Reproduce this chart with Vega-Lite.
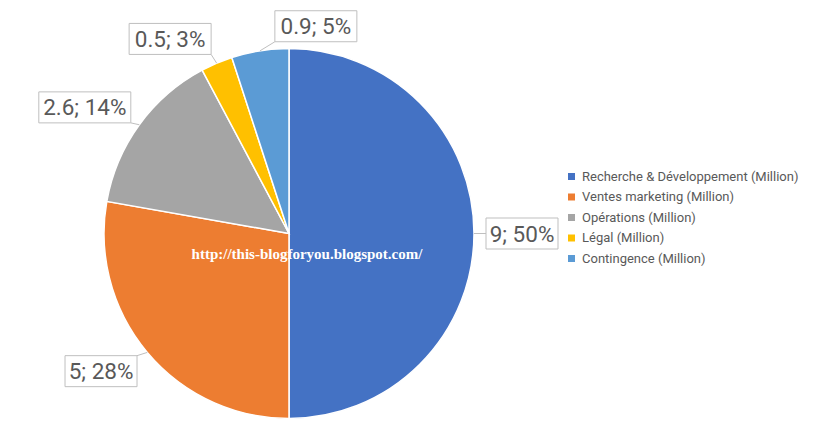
{
  "$schema": "https://vega.github.io/schema/vega-lite/v6.json",
  "autosize": {"type": "none"},
  "width": 578,
  "height": 387,
  "padding": {"left": 0, "top": 40, "right": 236, "bottom": 0},
  "background": "white",
  "config": {"view": {"stroke": null}},
  "layer": [
    {
      "data": {"name": "budget", "values": [
        {"category": "Recherche & Développement (Million)", "value": 9, "ord": 1},
        {"category": "Ventes marketing (Million)", "value": 5, "ord": 2},
        {"category": "Opérations (Million)", "value": 2.6, "ord": 3},
        {"category": "Légal (Million)", "value": 0.5, "ord": 4},
        {"category": "Contingence (Million)", "value": 0.9, "ord": 5}
      ]},
      "mark": {"type": "arc", "outerRadius": 185, "stroke": "white", "strokeWidth": 1.5},
      "encoding": {
        "theta": {"field": "value", "type": "quantitative", "stack": true},
        "order": {"field": "ord", "type": "quantitative"},
        "color": {
          "field": "category",
          "type": "nominal",
          "scale": {
            "domain": ["Recherche & Développement (Million)", "Ventes marketing (Million)", "Opérations (Million)", "Légal (Million)", "Contingence (Million)"],
            "range": ["#4472C4", "#ED7D31", "#A5A5A5", "#FFC000", "#5B9BD5"]
          },
          "legend": {
            "title": null,
            "orient": "none",
            "legendX": 565,
            "legendY": 130,
            "symbolType": "square",
            "symbolSize": 49,
            "symbolStrokeWidth": 0,
            "labelFont": "Roboto",
            "labelFontSize": 13,
            "labelColor": "#595959",
            "labelLimit": 400,
            "rowPadding": 6.5,
            "padding": 0,
            "labelOffset": 4
          }
        }
      }
    },
    {
      "data": {"values": [
        {"category": "Recherche & Développement (Million)", "value": 9, "ord": 1},
        {"category": "Ventes marketing (Million)", "value": 5, "ord": 2},
        {"category": "Opérations (Million)", "value": 2.6, "ord": 3},
        {"category": "Légal (Million)", "value": 0.5, "ord": 4},
        {"category": "Contingence (Million)", "value": 0.9, "ord": 5}
      ]},
      "transform": [
        {"joinaggregate": [{"op": "sum", "field": "value", "as": "total"}]},
        {"window": [{"op": "sum", "field": "value", "as": "cum"}], "sort": [{"field": "ord"}], "frame": [null, 0]},
        {"calculate": "datum.value / datum.total", "as": "pct"},
        {"calculate": "2 * PI * (datum.cum - datum.value / 2) / datum.total", "as": "mid"},
        {"calculate": "datum.mid + (datum.pct < 0.04 ? -0.147 : datum.pct < 0.06 ? 0.286 : datum.pct < 0.2 ? -0.075 : datum.pct < 0.3 ? 0.066 : 0)", "as": "la"},
        {"calculate": "datum.pct < 0.04 ? 228 : datum.pct < 0.06 ? 209 : datum.pct < 0.2 ? 240 : 233", "as": "lr"},
        {"calculate": "datum.lr * sin(datum.la)", "as": "lx"},
        {"calculate": "datum.lr * cos(datum.la)", "as": "ly"},
        {"calculate": "datum.value + '; ' + round(datum.pct * 100) + '%'", "as": "label"},
        {"calculate": "5 * length(datum.label) + 6", "as": "hw"},
        {"calculate": "datum.lx - datum.hw", "as": "bx1"},
        {"calculate": "datum.lx + datum.hw", "as": "bx2"},
        {"calculate": "datum.ly - 15.5", "as": "by1"},
        {"calculate": "datum.ly + 15.5", "as": "by2"},
        {"calculate": "185 * sin(datum.mid)", "as": "ex"},
        {"calculate": "185 * cos(datum.mid)", "as": "ey"},
        {"calculate": "clamp(datum.ex, datum.bx1, datum.bx2)", "as": "px"},
        {"calculate": "clamp(datum.ey, datum.by1, datum.by2)", "as": "py"}
      ],
      "layer": [
        {
          "mark": {"type": "rule", "color": "#BFBFBF", "strokeWidth": 1},
          "encoding": {
            "x": {"field": "ex", "type": "quantitative", "scale": {"domain": [-289, 289], "nice": false, "zero": false}, "axis": null},
            "y": {"field": "ey", "type": "quantitative", "scale": {"domain": [-193.5, 193.5], "nice": false, "zero": false}, "axis": null},
            "x2": {"field": "px"},
            "y2": {"field": "py"}
          }
        },
        {
          "mark": {"type": "rect", "fill": "white", "stroke": "#BFBFBF", "strokeWidth": 1},
          "encoding": {
            "x": {"field": "bx1", "type": "quantitative", "scale": {"domain": [-289, 289], "nice": false, "zero": false}, "axis": null},
            "x2": {"field": "bx2"},
            "y": {"field": "by1", "type": "quantitative", "scale": {"domain": [-193.5, 193.5], "nice": false, "zero": false}, "axis": null},
            "y2": {"field": "by2"}
          }
        },
        {
          "mark": {"type": "text", "font": "Roboto", "fontSize": 22.5, "color": "#595959", "align": "center", "baseline": "middle", "dy": 1},
          "encoding": {
            "x": {"field": "lx", "type": "quantitative", "scale": {"domain": [-289, 289], "nice": false, "zero": false}, "axis": null},
            "y": {"field": "ly", "type": "quantitative", "scale": {"domain": [-193.5, 193.5], "nice": false, "zero": false}, "axis": null},
            "text": {"field": "label", "type": "nominal"}
          }
        }
      ]
    },
    {
      "data": {"values": [{"watermark": "http://this-blogforyou.blogspot.com/"}]},
      "mark": {"type": "text", "font": "Liberation Serif", "fontWeight": "bold", "fontSize": 15, "color": "white", "align": "center", "baseline": "middle", "dx": 18, "dy": 20},
      "encoding": {"text": {"field": "watermark", "type": "nominal"}}
    }
  ]
}
